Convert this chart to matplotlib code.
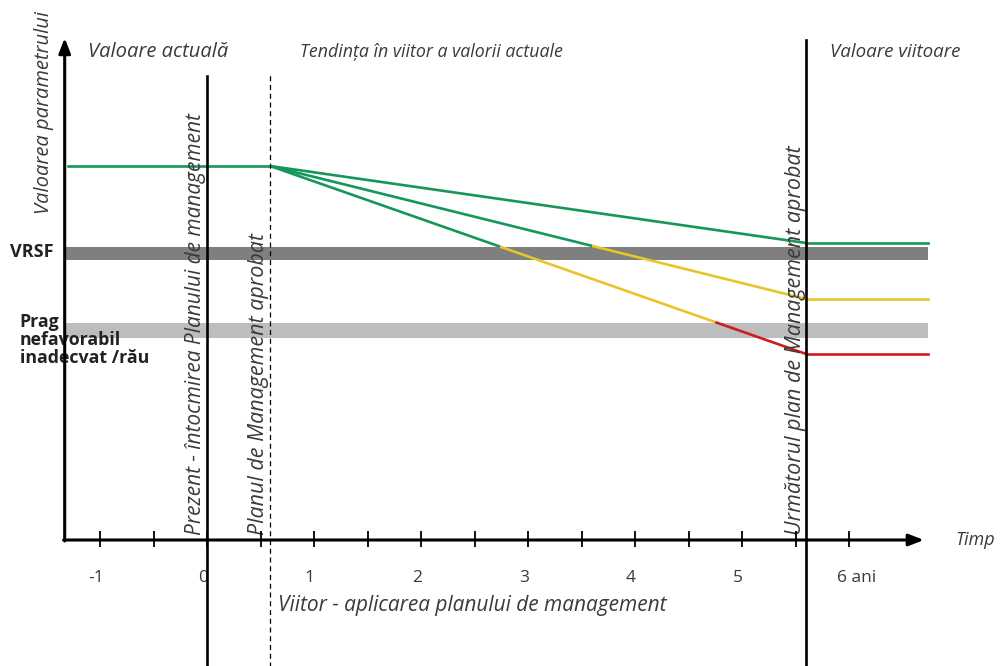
import numpy as np
import matplotlib
matplotlib.use('Agg')
import matplotlib.pyplot as plt

# ================== DATA ==================

# years on the time axis
TICK_MAJOR = [-1, 0, 1, 2, 3, 4, 5, 6]
TICK_LABELS = ['-1', '0', '1', '2', '3', '4', '5', '6 ani']
TICK_MINOR = [-0.5, 0.5, 1.5, 2.5, 3.5, 4.5, 5.5]

X_AXIS_START = -1.33
X_AXIS_END = 6.70
Y_AXIS_TOP = 5.02

# moments
T_PREZENT = 0.0
T_APROBAT = 0.59
T_URMATOR = 5.60
T_END = 6.74

# parameter value (arbitrary units)
VAL_ACTUAL = 3.74
VAL_FUTURE = [2.97, 2.41, 1.86]          # best / medium / worst scenario at T_URMATOR
VRSF_BAND = (2.80, 2.93)
PRAG_BAND = (2.02, 2.17)

# where each scenario changes colour
BREAKS = [[], [3.60], [2.74, 4.75]]
SEG_COLORS = [['green'], ['green', 'yellow'], ['green', 'yellow', 'red']]

COLORS = {
    'green': '#16975a',
    'yellow': '#e9c42a',
    'red': '#d01c1c',
}

TEXT_COLOR = '#3a3a3a'

plt.rcParams['font.family'] = ['Open Sans', 'DejaVu Sans']

# ================== PLOT ==================

fig = plt.figure(figsize=(10.05, 6.66), dpi=100)
ax = fig.add_axes([0, 0, 1, 1])
ax.set_xlim(-207 / 107, (1005 - 207) / 107)
ax.set_ylim(-1.26, 5.40)
ax.axis('off')

# bands
ax.fill_between([X_AXIS_START, T_END], VRSF_BAND[0], VRSF_BAND[1], color='#7f7f7f', lw=0, zorder=1)
ax.fill_between([X_AXIS_START, T_END], PRAG_BAND[0], PRAG_BAND[1], color='#bdbdbd', lw=0, zorder=1)

# current value
ax.plot([X_AXIS_START + 0.03, T_APROBAT], [VAL_ACTUAL, VAL_ACTUAL], color=COLORS['green'], lw=1.9, zorder=3)

# scenarios
for val, brk, cols in zip(VAL_FUTURE, BREAKS, SEG_COLORS):
    xs = [T_APROBAT] + brk + [T_URMATOR]
    ys = np.interp(xs, [T_APROBAT, T_URMATOR], [VAL_ACTUAL, val])
    for i, c in enumerate(cols):
        ax.plot(xs[i:i + 2], ys[i:i + 2], color=COLORS[c], lw=1.9, zorder=3, solid_capstyle='butt')
    ax.plot([T_URMATOR, T_END], [val, val], color=COLORS[cols[-1]], lw=1.9, zorder=3)

# vertical markers
ax.plot([T_PREZENT, T_PREZENT], [-1.3, 4.64], color='black', lw=1.9, zorder=4)
ax.plot([T_APROBAT, T_APROBAT], [-1.3, 4.66], color='black', lw=0.9, ls=(0, (4, 3)), zorder=4)
ax.plot([T_URMATOR, T_URMATOR], [-1.3, 5.00], color='black', lw=1.9, zorder=4)

# axes with arrows
arrow = dict(arrowstyle='-|>,head_length=0.9,head_width=0.35', lw=2.2, color='black',
             shrinkA=0, shrinkB=0)
ax.annotate('', xy=(X_AXIS_END, 0), xytext=(X_AXIS_START - 0.01, 0), arrowprops=arrow, zorder=5)
ax.annotate('', xy=(X_AXIS_START, Y_AXIS_TOP), xytext=(X_AXIS_START, -0.01), arrowprops=arrow, zorder=5)

ax.vlines(TICK_MAJOR + TICK_MINOR, -0.07, 0.09, color='black', lw=1.3, zorder=5)
for t, lab in zip(TICK_MAJOR, TICK_LABELS):
    if lab.endswith('ani'):
        ax.text(t - 0.11, -0.38, lab, ha='left', va='center', fontsize=12.5, color=TEXT_COLOR)
    else:
        ax.text(t - 0.04, -0.38, lab, ha='center', va='center', fontsize=12.5, color=TEXT_COLOR)

# texts
ax.text(-1.112, 4.88, 'Valoare actuală', style='italic', fontsize=14.5, color=TEXT_COLOR, va='center')
ax.text(0.869, 4.88, 'Tendința în viitor a valorii actuale', style='italic', fontsize=12.8,
        color=TEXT_COLOR, va='center')
ax.text(5.82, 4.88, 'Valoare viitoare', style='italic', fontsize=13.5, color=TEXT_COLOR, va='center')
ax.text(-1.523, 4.28, 'Valoarea parametrului', style='italic', fontsize=14.5, color=TEXT_COLOR,
        rotation=90, ha='center', va='center')

ax.text(-1.84, 2.88, 'VRSF', fontweight='bold', fontsize=13, color='#222222', va='center')
ax.text(-1.75, 2.27, 'Prag\nnefavorabil\ninadecvat /rău', fontweight='bold', fontsize=12.8,
        color='#222222', va='top', ha='left', linespacing=1.0)

ax.text(-0.112, 0.05, 'Prezent - întocmirea Planului de management', style='italic', fontsize=15,
        color=TEXT_COLOR, rotation=90, ha='center', va='bottom')
ax.text(0.477, 0.05, 'Planul de Management aprobat', style='italic', fontsize=15.5,
        color=TEXT_COLOR, rotation=90, ha='center', va='bottom')
ax.text(5.50, 0.05, 'Următorul plan de Management aprobat', style='italic', fontsize=15.5,
        color=TEXT_COLOR, rotation=90, ha='center', va='bottom')

ax.text(6.99, 0.0, 'Timp', style='italic', fontsize=13, color=TEXT_COLOR, va='center')
ax.text(0.664, -0.65, 'Viitor - aplicarea planului de management', style='italic', fontsize=15,
        color=TEXT_COLOR, va='center')

fig.savefig('out.png', dpi=100)
